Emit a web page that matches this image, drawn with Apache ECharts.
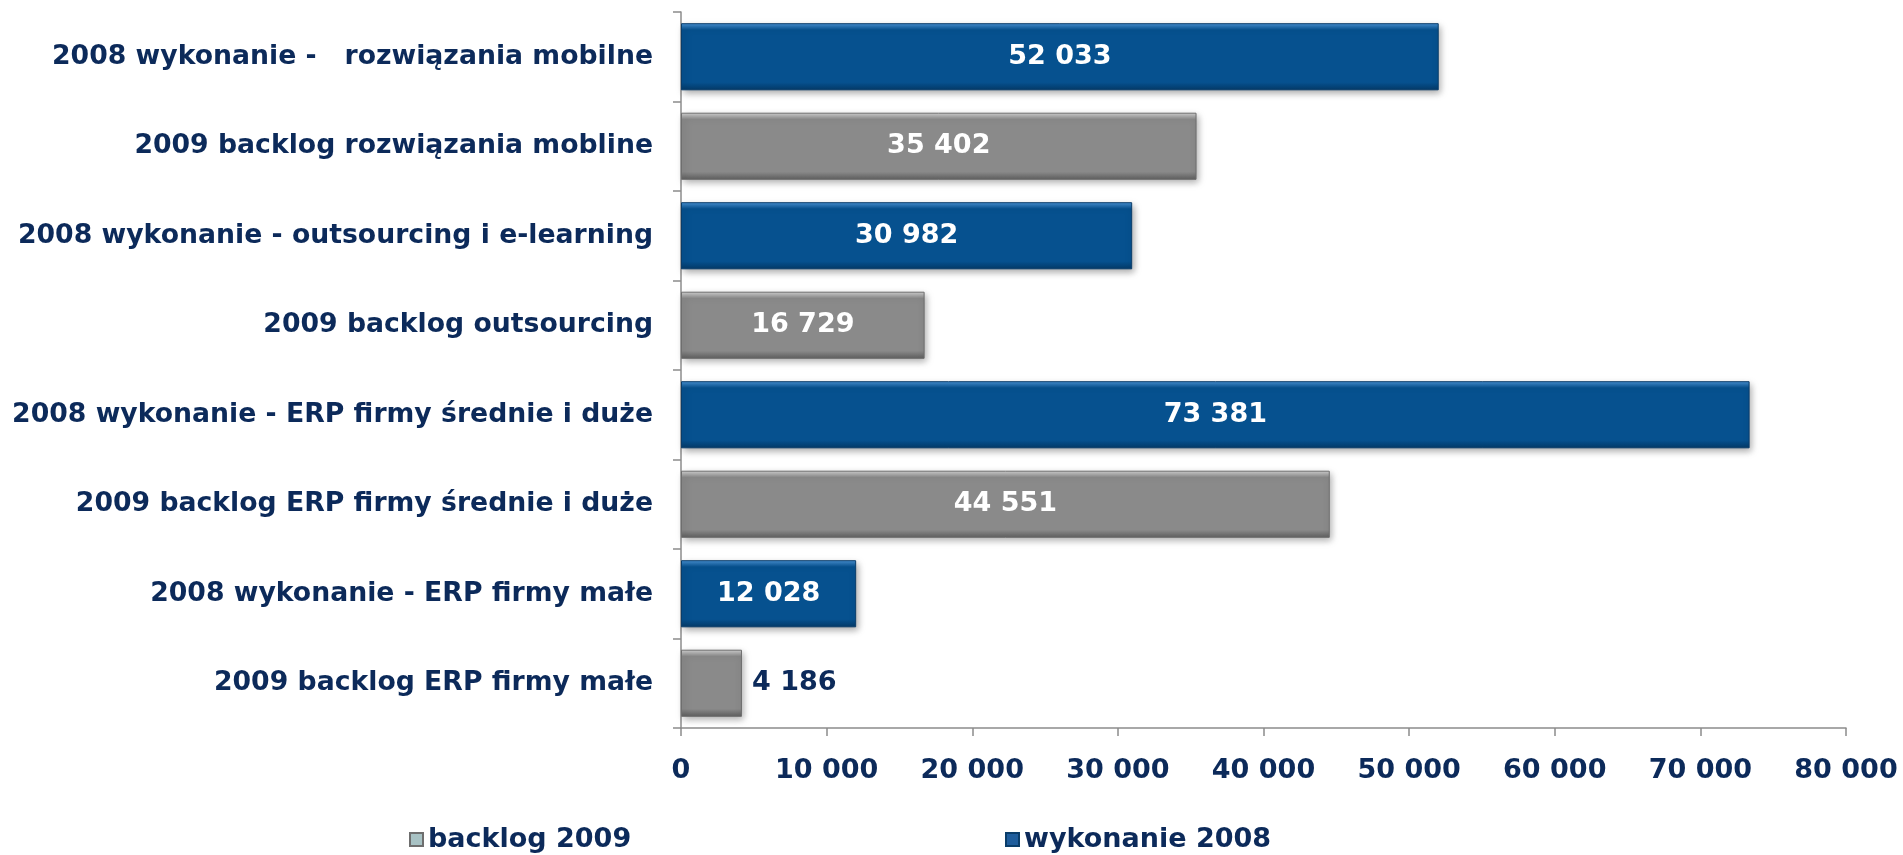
<!DOCTYPE html>
<html>
<head>
    <meta charset='utf-8'>
    <script src="https://cdn.jsdelivr.net/npm/echarts@6/dist/echarts.min.js"></script>
</head>
<body>
<style>
    html, body, #main {
        width: 100%;
        height: 100%;
        margin: 0;
        padding: 0;
        background: #fff;
    }
</style>
<div id="main"></div>
<script>
    // categories top to bottom
    var categories = [
        '2008 wykonanie -   rozwiązania mobilne',
        '2009 backlog rozwiązania mobline',
        '2008 wykonanie - outsourcing i e-learning',
        '2009 backlog outsourcing',
        '2008 wykonanie - ERP firmy średnie i duże',
        '2009 backlog ERP firmy średnie i duże',
        '2008 wykonanie - ERP firmy małe',
        '2009 backlog ERP firmy małe'
    ];
    var backlog2009 = ['-', 35402, '-', 16729, '-', 44551, '-', 4186];
    var wykonanie2008 = [52033, '-', 30982, '-', 73381, '-', 12028, '-'];
    var xTicks = [0, 10000, 20000, 30000, 40000, 50000, 60000, 70000, 80000];

    var navy = '#0c2a5a';
    var font = 'DejaVu Sans';
    var fs = 27;

    function fmt(v) {
        return String(v).replace(/\B(?=(\d{3})+(?!\d))/g, ' ');
    }

    function bevel(light, main, dark) {
        return new echarts.graphic.LinearGradient(0, 0, 0, 1, [
            {offset: 0, color: light},
            {offset: 0.1, color: main},
            {offset: 0.88, color: main},
            {offset: 1, color: dark}
        ]);
    }

    var chart = echarts.init(document.getElementById('main'));

    chart.setOption({
        animation: false,
        textStyle: {fontFamily: font},
        grid: {left: 681, right: 57, top: 12, bottom: 127},
        legend: [{
            left: 404,
            top: 821,
            itemWidth: 13,
            itemHeight: 13,
            textStyle: {color: navy, fontSize: fs, fontWeight: 'bold', fontFamily: font},
            data: [{name: 'backlog 2009', icon: 'rect', itemStyle: {color: '#a8c2c4'}}]
        }, {
            left: 1000,
            top: 821,
            itemWidth: 13,
            itemHeight: 13,
            textStyle: {color: navy, fontSize: fs, fontWeight: 'bold', fontFamily: font},
            data: [{name: 'wykonanie 2008', icon: 'rect', itemStyle: {color: '#1f5d9c'}}]
        }],
        xAxis: {
            type: 'value',
            min: xTicks[0],
            max: xTicks[xTicks.length - 1],
            interval: 10000,
            splitLine: {show: false},
            axisLine: {show: true, lineStyle: {color: '#8c8c8c', width: 1.5}},
            axisTick: {show: true, length: 8, lineStyle: {color: '#8c8c8c', width: 1.5}},
            axisLabel: {
                color: navy, fontSize: fs, fontWeight: 'bold', fontFamily: font, margin: 29,
                formatter: fmt
            }
        },
        yAxis: {
            type: 'category',
            inverse: true,
            data: categories,
            axisLine: {show: true, lineStyle: {color: '#8c8c8c', width: 1.5}},
            axisTick: {show: true, length: 8, lineStyle: {color: '#8c8c8c', width: 1.5}},
            axisLabel: {
                color: navy, fontSize: 26.7, fontWeight: 'bold', fontFamily: font, margin: 28
            }
        },
        series: [{
            name: 'backlog 2009',
            type: 'bar',
            stack: 'all',
            barWidth: '75%',
            data: backlog2009.map(function (v) {
                if (v !== '-' && v < 8000) {
                    return {
                        value: v,
                        label: {position: 'right', color: navy, distance: 10}
                    };
                }
                return v;
            }),
            itemStyle: {
                color: bevel('#d4d4d4', '#8a8a8a', '#5e5e5e'),
                borderColor: '#6e6e6e',
                borderWidth: 1,
                shadowColor: 'rgba(0,0,0,0.35)',
                shadowBlur: 7,
                shadowOffsetX: 2,
                shadowOffsetY: 3
            },
            label: {
                show: true,
                position: 'inside',
                color: '#fff',
                fontSize: fs,
                fontWeight: 'bold',
                fontFamily: font,
                formatter: function (p) { return fmt(p.value); }
            }
        }, {
            name: 'wykonanie 2008',
            type: 'bar',
            stack: 'all',
            barWidth: '75%',
            data: wykonanie2008,
            itemStyle: {
                color: bevel('#4a94d6', '#06518f', '#043a68'),
                borderColor: '#0a3d6a',
                borderWidth: 1,
                shadowColor: 'rgba(0,0,0,0.35)',
                shadowBlur: 7,
                shadowOffsetX: 2,
                shadowOffsetY: 3
            },
            label: {
                show: true,
                position: 'inside',
                color: '#fff',
                fontSize: fs,
                fontWeight: 'bold',
                fontFamily: font,
                formatter: function (p) { return fmt(p.value); }
            }
        }]
    });

    window.onresize = function () {
        chart.resize();
    };
</script>
</body>
</html>
